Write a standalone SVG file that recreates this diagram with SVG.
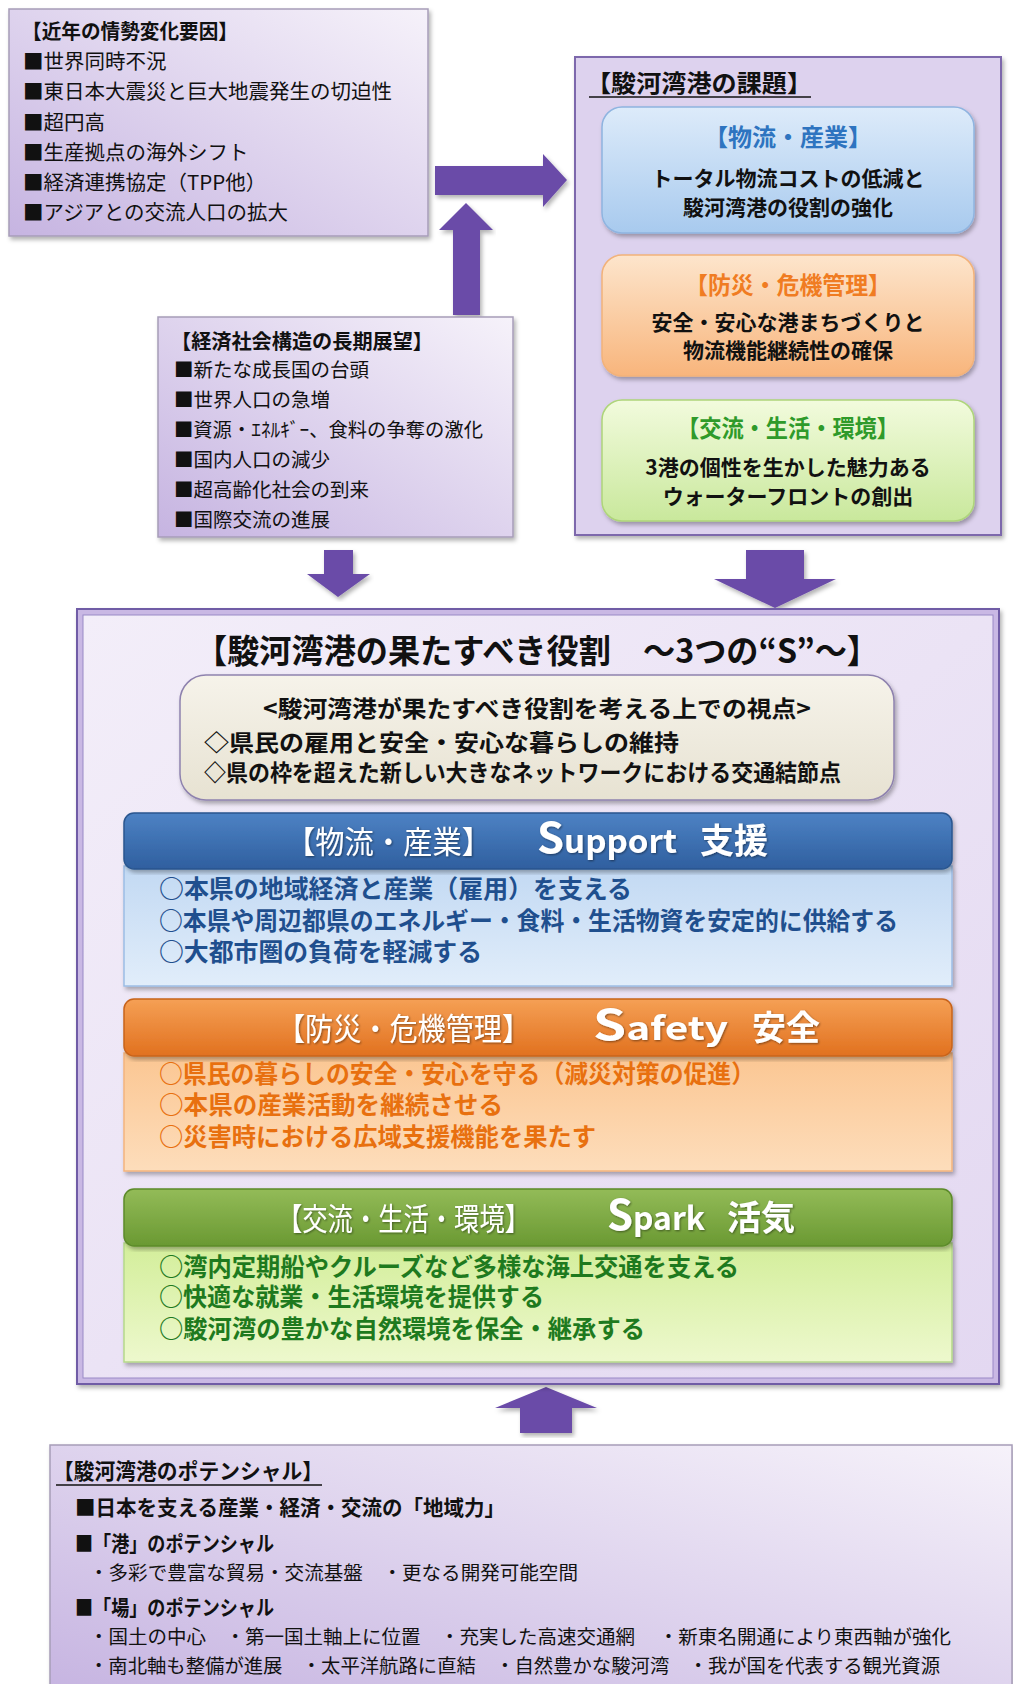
<svg xmlns="http://www.w3.org/2000/svg" width="1013" height="1684" viewBox="0 0 1013 1684">
<defs>
<linearGradient id="lav" x1="1" y1="0" x2="0" y2="1"><stop offset="0" stop-color="#F6F2FA"/><stop offset="1" stop-color="#C6B4E1"/></linearGradient>
<linearGradient id="lav2" x1="0" y1="0" x2="1" y2="1"><stop offset="0" stop-color="#F3EEF9"/><stop offset="1" stop-color="#E3D8F1"/></linearGradient>
<linearGradient id="blueBox" x1="0" y1="0" x2="0" y2="1"><stop offset="0" stop-color="#DDEBFA"/><stop offset="1" stop-color="#A8CAEE"/></linearGradient>
<linearGradient id="orgBox" x1="0" y1="0" x2="0" y2="1"><stop offset="0" stop-color="#FDE5CC"/><stop offset="1" stop-color="#F8B57C"/></linearGradient>
<linearGradient id="grnBox" x1="0" y1="0" x2="0" y2="1"><stop offset="0" stop-color="#F2FBDD"/><stop offset="1" stop-color="#C9E89C"/></linearGradient>
<linearGradient id="beige" x1="0" y1="0" x2="0" y2="1"><stop offset="0" stop-color="#F6F3EA"/><stop offset="1" stop-color="#E7E2D2"/></linearGradient>
<linearGradient id="blueHd" x1="0" y1="0" x2="0" y2="1"><stop offset="0" stop-color="#4D82C4"/><stop offset="1" stop-color="#2F5F9F"/></linearGradient>
<linearGradient id="blueBd" x1="0" y1="0" x2="0" y2="1"><stop offset="0" stop-color="#C2D9F3"/><stop offset="1" stop-color="#E1EDFA"/></linearGradient>
<linearGradient id="orgHd" x1="0" y1="0" x2="0" y2="1"><stop offset="0" stop-color="#F5A055"/><stop offset="1" stop-color="#E1711F"/></linearGradient>
<linearGradient id="orgBd" x1="0" y1="0" x2="0" y2="1"><stop offset="0" stop-color="#FBC692"/><stop offset="1" stop-color="#FDDDBB"/></linearGradient>
<linearGradient id="grnHd" x1="0" y1="0" x2="0" y2="1"><stop offset="0" stop-color="#93BB58"/><stop offset="1" stop-color="#6A9932"/></linearGradient>
<linearGradient id="grnBd" x1="0" y1="0" x2="0" y2="1"><stop offset="0" stop-color="#D3EE9A"/><stop offset="1" stop-color="#EDF8CD"/></linearGradient>
<filter id="sh" x="-5%" y="-5%" width="110%" height="115%"><feDropShadow dx="2" dy="3" stdDeviation="2" flood-color="#000" flood-opacity="0.3"/></filter>
<filter id="tsh" x="-5%" y="-20%" width="110%" height="140%"><feDropShadow dx="1" dy="1" stdDeviation="0.8" flood-color="#000" flood-opacity="0.45"/></filter>
</defs>
<style>
text{font-family:"Noto Sans CJK JP","Noto Sans",sans-serif;}
.b{font-weight:bold;}
.k{fill:#111;}
.lv{fill:url(#lav);stroke:#A79DB8;stroke-width:1.5;}
.arr{fill:#6A4CA8;}
.wh{fill:#fff;}
.bl{fill:#1F4F8E;}
.or{fill:#E8700F;}
.gr{fill:#1E7A1E;}
</style>

<g id="connectors">
<polygon class="arr" filter="url(#sh)" points="435,166 543,166 543,154 567,180 543,207 543,195 435,195"/>
<polygon class="arr" filter="url(#sh)" points="453,315 453,230 439,230 466,203 493,230 480,230 480,315"/>
<polygon class="arr" filter="url(#sh)" points="324,550 353,550 353,574 370,574 338,597 307,574 324,574"/>
<polygon class="arr" filter="url(#sh)" points="746,550 804,550 804,579 836,579 775,608 714,579 746,579"/>
<polygon class="arr" filter="url(#sh)" points="520,1433 572,1433 572,1408 597,1408 546,1387 495,1408 520,1408"/>
</g>

<g id="node-trends">
<rect class="lv" x="9" y="9" width="419" height="227" filter="url(#sh)"/>
<text class="b k" x="22" y="39" font-size="20.5" textLength="216" lengthAdjust="spacingAndGlyphs">【近年の情勢変化要因】</text>
<text class="k" x="23" y="69" font-size="20.5">■世界同時不況</text>
<text class="k" x="23" y="99" font-size="20.5">■東日本大震災と巨大地震発生の切迫性</text>
<text class="k" x="23" y="130" font-size="20.5">■超円高</text>
<text class="k" x="23" y="160" font-size="20.5">■生産拠点の海外シフト</text>
<text class="k" x="23" y="190" font-size="20.5">■経済連携協定（TPP他）</text>
<text class="k" x="23" y="220" font-size="20.5">■アジアとの交流人口の拡大</text>
</g>

<g id="node-outlook">
<rect class="lv" x="158" y="317" width="355" height="220" filter="url(#sh)"/>
<text class="b k" x="171" y="349" font-size="20" textLength="262" lengthAdjust="spacingAndGlyphs">【経済社会構造の長期展望】</text>
<text class="k" x="174" y="377" font-size="19.5">■新たな成長国の台頭</text>
<text class="k" x="174" y="407" font-size="19.5">■世界人口の急増</text>
<text class="k" x="174" y="437" font-size="19.5" textLength="309" lengthAdjust="spacingAndGlyphs">■資源・ｴﾈﾙｷﾞｰ、食料の争奪の激化</text>
<text class="k" x="174" y="467" font-size="19.5">■国内人口の減少</text>
<text class="k" x="174" y="497" font-size="19.5">■超高齢化社会の到来</text>
<text class="k" x="174" y="527" font-size="19.5">■国際交流の進展</text>
</g>

<g id="node-issues">
<rect x="575" y="57" width="426" height="478" fill="#DDD2EE" stroke="#7D68AC" stroke-width="2" filter="url(#sh)"/>
<text class="b k" x="586" y="92" font-size="23.5" textLength="226" lengthAdjust="spacingAndGlyphs">【駿河湾港の課題】</text>
<line x1="589" y1="97" x2="811" y2="97" stroke="#111" stroke-width="1.5"/>
<g id="issue-logistics">
<rect x="602" y="107" width="372" height="126" rx="20" fill="url(#blueBox)" stroke="#8FB4E0" stroke-width="1.5" filter="url(#sh)"/>
<text class="b" x="788" y="146" font-size="23.5" fill="#2E74C0" text-anchor="middle" textLength="168" lengthAdjust="spacingAndGlyphs">【物流・産業】</text>
<text class="b k" x="788" y="186" font-size="21" text-anchor="middle">トータル物流コストの低減と</text>
<text class="b k" x="788" y="215" font-size="21" text-anchor="middle">駿河湾港の役割の強化</text>
</g>
<g id="issue-safety">
<rect x="602" y="255" width="372" height="121" rx="20" fill="url(#orgBox)" stroke="#F2B27A" stroke-width="1.5" filter="url(#sh)"/>
<text class="b" x="788" y="294" font-size="23.5" fill="#F07C22" text-anchor="middle" textLength="206" lengthAdjust="spacingAndGlyphs">【防災・危機管理】</text>
<text class="b k" x="788" y="330" font-size="21" text-anchor="middle">安全・安心な港まちづくりと</text>
<text class="b k" x="788" y="358" font-size="21" text-anchor="middle">物流機能継続性の確保</text>
</g>
<g id="issue-exchange">
<rect x="602" y="400" width="372" height="121" rx="20" fill="url(#grnBox)" stroke="#AED57A" stroke-width="1.5" filter="url(#sh)"/>
<text class="b" x="788" y="437" font-size="23.5" fill="#2F9A2A" text-anchor="middle" textLength="222" lengthAdjust="spacingAndGlyphs">【交流・生活・環境】</text>
<text class="b k" x="788" y="475" font-size="21" text-anchor="middle">3港の個性を生かした魅力ある</text>
<text class="b k" x="788" y="504" font-size="21" text-anchor="middle">ウォーターフロントの創出</text>
</g>
</g>

<g id="node-roles">
<rect x="77" y="609" width="922" height="775" fill="#C9B8E4" stroke="#6F5BA6" stroke-width="2" filter="url(#sh)"/>
<rect x="83" y="615" width="910" height="763" fill="url(#lav2)" stroke="#9A89C6" stroke-width="1"/>
<text class="b k" x="537" y="663" font-size="33" text-anchor="middle" textLength="684" lengthAdjust="spacingAndGlyphs">【駿河湾港の果たすべき役割　～3つの“S”～】</text>
<g id="viewpoint">
<rect x="180" y="675" width="714" height="125" rx="26" fill="url(#beige)" stroke="#8E82AE" stroke-width="1.5" filter="url(#sh)"/>
<text class="b k" x="537" y="717" font-size="23" text-anchor="middle" textLength="548" lengthAdjust="spacingAndGlyphs">&lt;駿河湾港が果たすべき役割を考える上での視点&gt;</text>
<text class="b k" x="204" y="751" font-size="23" textLength="475" lengthAdjust="spacingAndGlyphs">◇県民の雇用と安全・安心な暮らしの維持</text>
<text class="b k" x="204" y="781" font-size="23" textLength="637" lengthAdjust="spacingAndGlyphs">◇県の枠を超えた新しい大きなネットワークにおける交通結節点</text>
</g>
<g id="role-support">
<rect x="124" y="866" width="828" height="120" fill="url(#blueBd)" stroke="#9CBDE5" stroke-width="1.5" filter="url(#sh)"/>
<rect x="124" y="813" width="828" height="56" rx="10" fill="url(#blueHd)" stroke="#2A568F" stroke-width="1.5" filter="url(#sh)"/>
<g filter="url(#tsh)">
<text class="wh" x="286" y="853" font-size="31" textLength="205" lengthAdjust="spacingAndGlyphs">【物流・産業】</text>
<text class="wh b" x="537" y="853" font-size="32" textLength="140" lengthAdjust="spacingAndGlyphs"><tspan font-size="42">S</tspan>upport</text>
<text class="wh b" x="700" y="853" font-size="34">支援</text>
</g>
<text class="b bl" x="159" y="898" font-size="24.7" textLength="473" lengthAdjust="spacingAndGlyphs">○本県の地域経済と産業（雇用）を支える</text>
<text class="b bl" x="159" y="930" font-size="24.7" textLength="739" lengthAdjust="spacingAndGlyphs">○本県や周辺都県のエネルギー・食料・生活物資を安定的に供給する</text>
<text class="b bl" x="159" y="961" font-size="24.7" textLength="323" lengthAdjust="spacingAndGlyphs">○大都市圏の負荷を軽減する</text>
</g>
<g id="role-safety">
<rect x="124" y="1053" width="828" height="118" fill="url(#orgBd)" stroke="#F3B47E" stroke-width="1.5" filter="url(#sh)"/>
<rect x="124" y="999" width="828" height="57" rx="10" fill="url(#orgHd)" stroke="#C8641A" stroke-width="1.5" filter="url(#sh)"/>
<g filter="url(#tsh)">
<text class="wh" x="277" y="1040" font-size="31" textLength="253" lengthAdjust="spacingAndGlyphs">【防災・危機管理】</text>
<text class="wh b" x="593" y="1040" font-size="32" textLength="135" lengthAdjust="spacingAndGlyphs"><tspan font-size="42">S</tspan>afety</text>
<text class="wh b" x="752" y="1040" font-size="34">安全</text>
</g>
<text class="b or" x="159" y="1083" font-size="24.7" textLength="596" lengthAdjust="spacingAndGlyphs">○県民の暮らしの安全・安心を守る（減災対策の促進）</text>
<text class="b or" x="159" y="1114" font-size="24.7" textLength="344" lengthAdjust="spacingAndGlyphs">○本県の産業活動を継続させる</text>
<text class="b or" x="159" y="1146" font-size="24.7" textLength="437" lengthAdjust="spacingAndGlyphs">○災害時における広域支援機能を果たす</text>
</g>
<g id="role-spark">
<rect x="124" y="1243" width="828" height="119" fill="url(#grnBd)" stroke="#B5D98A" stroke-width="1.5" filter="url(#sh)"/>
<rect x="124" y="1189" width="828" height="57" rx="10" fill="url(#grnHd)" stroke="#5C8A2A" stroke-width="1.5" filter="url(#sh)"/>
<g filter="url(#tsh)">
<text class="wh" x="277" y="1230" font-size="31" textLength="253" lengthAdjust="spacingAndGlyphs">【交流・生活・環境】</text>
<text class="wh b" x="607" y="1230" font-size="32" textLength="98" lengthAdjust="spacingAndGlyphs"><tspan font-size="42">S</tspan>park</text>
<text class="wh b" x="727" y="1230" font-size="34">活気</text>
</g>
<text class="b gr" x="159" y="1276" font-size="24.7" textLength="580" lengthAdjust="spacingAndGlyphs">○湾内定期船やクルーズなど多様な海上交通を支える</text>
<text class="b gr" x="159" y="1306" font-size="24.7" textLength="385" lengthAdjust="spacingAndGlyphs">○快適な就業・生活環境を提供する</text>
<text class="b gr" x="159" y="1338" font-size="24.7" textLength="486" lengthAdjust="spacingAndGlyphs">○駿河湾の豊かな自然環境を保全・継承する</text>
</g>
</g>

<g id="node-potential">
<rect class="lv" x="50" y="1445" width="962" height="250" filter="url(#sh)"/>
<text class="b k" x="53" y="1479" font-size="21.5" textLength="270" lengthAdjust="spacingAndGlyphs">【駿河湾港のポテンシャル】</text>
<line x1="56" y1="1485" x2="322" y2="1485" stroke="#111" stroke-width="1.5"/>
<text class="b k" x="75" y="1515" font-size="21" textLength="430" lengthAdjust="spacingAndGlyphs">■日本を支える産業・経済・交流の「地域力」</text>
<text class="b k" x="75" y="1551" font-size="21" textLength="199" lengthAdjust="spacingAndGlyphs">■「港」のポテンシャル</text>
<text class="k" x="89" y="1580" font-size="19" textLength="489" lengthAdjust="spacingAndGlyphs">・多彩で豊富な貿易・交流基盤　・更なる開発可能空間</text>
<text class="b k" x="75" y="1615" font-size="21" textLength="199" lengthAdjust="spacingAndGlyphs">■「場」のポテンシャル</text>
<text class="k" x="89" y="1644" font-size="19" textLength="862" lengthAdjust="spacingAndGlyphs">・国土の中心　・第一国土軸上に位置　・充実した高速交通網　 ・新東名開通により東西軸が強化</text>
<text class="k" x="89" y="1673" font-size="19" textLength="851" lengthAdjust="spacingAndGlyphs">・南北軸も整備が進展　・太平洋航路に直結　・自然豊かな駿河湾　・我が国を代表する観光資源</text>
</g>
</svg>
